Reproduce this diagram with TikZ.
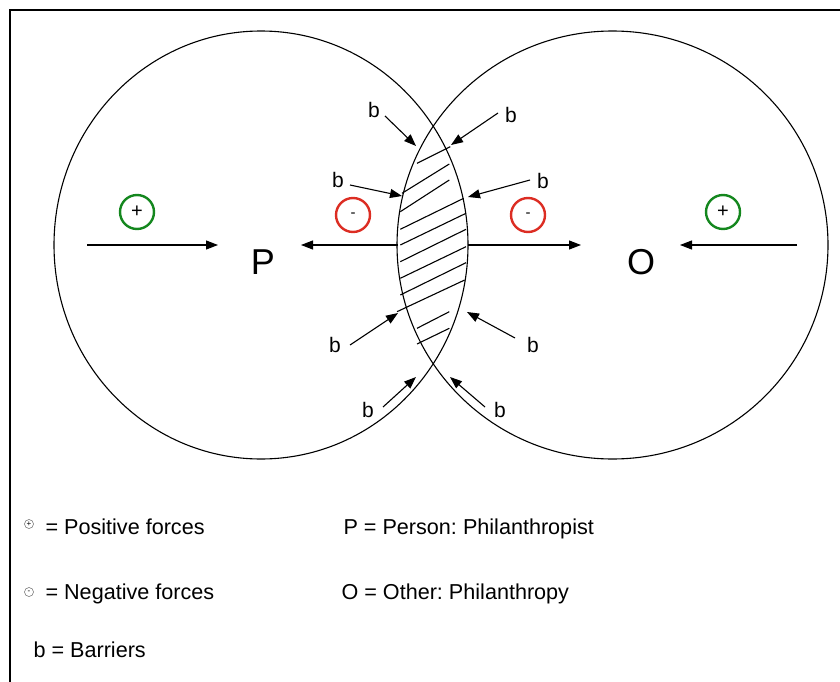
\documentclass[tikz,border=0pt]{standalone}
\usepackage{fontspec}
\setmainfont{Liberation Sans}
\usetikzlibrary{arrows.meta}
\definecolor{fgreen}{RGB}{20,135,30}
\definecolor{fred}{RGB}{220,45,35}
\frenchspacing
\begin{document}
\begin{tikzpicture}[x=1pt,y=-1pt,line width=1.1pt,
  >={Triangle[length=12pt,width=9pt]},
  forcecirc/.style={circle,draw,line width=2.4pt,minimum size=34pt,inner sep=0pt},
  posforce/.style={forcecirc,draw=fgreen,font=\fontsize{20}{20}\selectfont},
  negforce/.style={forcecirc,draw=fred,font=\fontsize{15}{15}\selectfont},
  barlabel/.style={font=\fontsize{21}{21}\selectfont,inner sep=0pt},
  biglabel/.style={font=\fontsize{36}{36}\selectfont,inner sep=0pt},
  legtext/.style={font=\fontsize{21.6}{21.6}\selectfont,inner sep=0pt,anchor=base west},
  legsym/.style={circle,draw=black!60,line width=0.5pt,minimum size=9pt,inner sep=0pt,font=\fontsize{8}{8}\selectfont}]
\useasboundingbox (0,0) rectangle (840,682);
% frame
\draw[line width=1.2pt] (10,682) -- (10,10) -- (840,10);
% circles
\draw (261,245) ellipse [x radius=207pt, y radius=214pt];
\draw (612.5,245) ellipse [x radius=215.5pt, y radius=214pt];
% hatching
\foreach \xa/\ya/\xb/\yb in {417/163.3/450.3/146.7, 402/193.3/449.3/164, 400.3/211.7/449.3/180,
  400.3/229.3/463.7/198.3, 400.3/245/466/213.3, 400.3/261.7/466/229.3, 400.3/278.3/466/246.7,
  400.3/295/466/262.7, 397/311.7/464.7/280, 417/328.3/449.3/311.7, 417/344/449.3/328.3}{
  \draw (\xa,\ya) -- (\xb,\yb);
}
% labels
\node[biglabel] (P) at (263,262) {P};
\node[biglabel] (O) at (641,262) {O};
\node[posforce] (p1) at (137,212) {+};
\node[posforce] (p2) at (723,212) {+};
\node[negforce] (n1) at (353,215) {-};
\node[negforce] (n2) at (528,215) {-};
% horizontal force arrows
\coordinate (a1s) at (87,245);  \coordinate (a1e) at (218,245);
\coordinate (a2s) at (398,245); \coordinate (a2e) at (301,245);
\coordinate (a3s) at (468,245); \coordinate (a3e) at (581,245);
\coordinate (a4s) at (797,245); \coordinate (a4e) at (680,245);
\draw[->] (a1s) -- (a1e);
\draw[->] (a2s) -- (a2e);
\draw[->] (a3s) -- (a3e);
\draw[->] (a4s) -- (a4e);
% barriers
\node[barlabel] (b1) at (374,110) {b};
\node[barlabel] (b2) at (511,115) {b};
\node[barlabel] (b3) at (338,180) {b};
\node[barlabel] (b4) at (543,181) {b};
\node[barlabel] (b5) at (335,345) {b};
\node[barlabel] (b6) at (533,345) {b};
\node[barlabel] (b7) at (368,410) {b};
\node[barlabel] (b8) at (500,410) {b};
\coordinate (t1) at (416,146);
\coordinate (t2) at (451,145);
\coordinate (t3) at (402,196);
\coordinate (t4) at (468,197);
\coordinate (t5) at (398,313);
\coordinate (t6) at (467,312);
\coordinate (t7) at (416,377);
\coordinate (t8) at (450,377);
\coordinate (s1) at (385,116);
\coordinate (s2) at (498,113);
\coordinate (s3) at (350,185);
\coordinate (s4) at (530,180);
\coordinate (s5) at (350,345);
\coordinate (s6) at (515,338);
\coordinate (s7) at (383,407);
\coordinate (s8) at (485,407);
\foreach \i in {1,...,8}{\draw[->] (s\i) -- (t\i);}
% legend
\node[legsym] (lp) at (29,524) {+};
\node[legsym] (ln) at (29,592) {-};
\node[legtext] (l1) at (45,534) {= Positive forces};
\node[legtext] (l2) at (45,599) {= Negative forces};
\node[legtext] (l3) at (33,657) {b = Barriers};
\node[legtext] (l4) at (343,534) {P = Person: Philanthropist};
\node[legtext] (l5) at (341,599) {O = Other: Philanthropy};
\end{tikzpicture}
\end{document}
